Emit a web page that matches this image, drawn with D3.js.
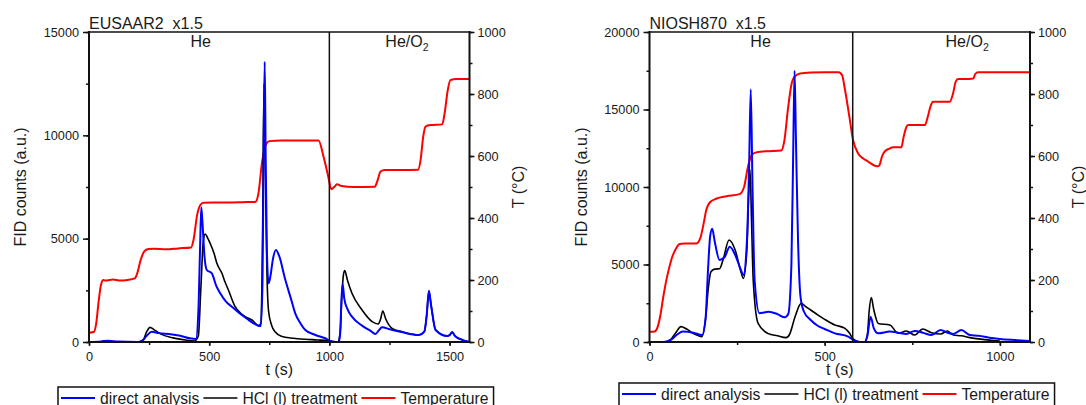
<!DOCTYPE html>
<html>
<head>
<meta charset="utf-8">
<script src="https://cdn.jsdelivr.net/npm/d3@7"></script>
<style>
  body { margin: 0; background: #fff; }
  svg { display: block; }
  text { font-family: "Liberation Sans", Arial, sans-serif; fill: #1a1a1a; }
</style>
</head>
<body>
<svg id="chart" width="1086" height="405"></svg>
<script>
// ---------- EUSAAR2 protocol (x1.5) ----------
const eusTempTime = [0, 20, 30, 40, 50, 60, 70, 100, 130, 160, 190, 200, 215, 230, 247, 270, 320, 370, 425, 435, 450, 462, 475, 520, 580, 640, 692, 705, 720, 735, 750, 800, 900, 955, 975, 995, 1008, 1020, 1032, 1050, 1100, 1189, 1200, 1213, 1230, 1300, 1369, 1380, 1390, 1400, 1420, 1469, 1480, 1492, 1504, 1530, 1583];
const eusTemp     = [30, 32, 60, 130, 185, 200, 198, 202, 198, 200, 205, 220, 265, 292, 300, 301, 299, 302, 305, 330, 410, 440, 449, 450, 450, 451, 452, 480, 580, 635, 648, 650, 650, 650, 600, 535, 493, 500, 509, 503, 500, 501, 520, 550, 555, 555, 556, 590, 660, 695, 700, 702, 740, 810, 845, 848, 848];

const eusDirectTime = [0, 50, 80, 120, 200, 219, 240, 261, 290, 340, 380, 420, 445, 455, 462, 467, 472, 480, 490, 511, 530, 546, 570, 594, 615, 636, 660, 685, 705, 715, 722, 727, 731, 735, 740, 747, 755, 765, 778, 790, 817, 840, 858, 880, 900, 942, 983, 1004, 1020, 1039, 1045, 1050, 1055, 1062, 1075, 1094, 1136, 1170, 1192, 1205, 1219, 1250, 1300, 1372, 1395, 1405, 1414, 1423, 1442, 1490, 1500, 1511, 1522, 1553, 1583];
const eusDirect     = [0, 30, 60, 20, 0, 30, 300, 500, 430, 380, 300, 180, 150, 1500, 4500, 6516, 5800, 4200, 3484, 3323, 2700, 2355, 1950, 1710, 1500, 1306, 1100, 903, 790, 780, 3000, 10000, 13564, 9000, 4500, 2839, 3200, 4000, 4452, 4200, 3000, 2100, 1387, 900, 580, 339, 180, 50, 0, 0, 400, 2000, 2806, 2100, 1600, 1226, 790, 550, 387, 550, 710, 620, 480, 340, 500, 1300, 2484, 1800, 580, 290, 330, 480, 300, 100, 0];

const eusHClTime = [0, 200, 225, 240, 254, 270, 300, 350, 400, 440, 455, 465, 475, 483, 495, 504, 520, 532, 553, 566, 580, 608, 630, 650, 678, 705, 715, 722, 728, 734, 740, 747, 760, 775, 800, 850, 900, 950, 1000, 1035, 1045, 1052, 1058, 1064, 1075, 1094, 1136, 1178, 1203, 1213, 1222, 1235, 1261, 1303, 1372, 1395, 1405, 1414, 1423, 1442, 1490, 1500, 1511, 1522, 1553, 1583];
const eusHCl     = [0, 0, 100, 500, 710, 600, 380, 200, 100, 50, 300, 2500, 4800, 5226, 5000, 4774, 4300, 3806, 3323, 2900, 2516, 1710, 1400, 1226, 1065, 790, 900, 5000, 12500, 8000, 3500, 1500, 800, 480, 280, 180, 130, 100, 60, 0, 500, 2200, 3200, 3452, 3000, 2355, 1548, 984, 870, 1100, 1500, 1100, 660, 500, 340, 500, 1300, 2450, 1800, 580, 290, 330, 470, 300, 100, 0];

// ---------- NIOSH870 protocol (x1.5) ----------
const nioTempTime = [0, 14, 22, 30, 40, 50, 57, 65, 75, 86, 100, 134, 145, 155, 162, 172, 190, 220, 257, 270, 280, 290, 300, 330, 376, 385, 395, 405, 414, 430, 460, 500, 540, 550, 557, 570, 581, 595, 610, 624, 645, 652, 657, 664, 671, 685, 695, 719, 725, 732, 738, 760, 786, 795, 802, 809, 830, 857, 866, 874, 881, 900, 924, 930, 938, 1000, 1086];
const nioTemp     = [33, 34, 45, 80, 150, 210, 243, 275, 300, 316, 318, 318, 335, 385, 426, 450, 462, 470, 477, 500, 560, 600, 610, 615, 618, 650, 750, 830, 856, 866, 869, 870, 870, 860, 820, 730, 652, 609, 592, 582, 568, 567, 572, 600, 614, 624, 628, 628, 660, 690, 700, 700, 700, 730, 760, 775, 775, 775, 800, 840, 848, 848, 850, 865, 870, 870, 870];

const nioDirectTime = [0, 40, 60, 80, 95, 125, 150, 160, 167, 173, 179, 186, 200, 215, 229, 245, 260, 268, 278, 284, 289, 294, 300, 314, 340, 365, 386, 396, 405, 410, 414, 418, 424, 431, 440, 460, 480, 500, 529, 567, 581, 600, 614, 622, 631, 640, 653, 686, 710, 733, 757, 780, 805, 831, 850, 867, 890, 914, 940, 970, 1000, 1050, 1086];
const nioDirect     = [0, 0, 120, 500, 670, 600, 450, 1500, 4645, 6800, 7300, 6500, 5290, 5500, 6150, 5600, 4700, 4323, 6500, 11000, 16300, 10000, 4000, 1849, 1957, 1800, 1591, 1800, 5000, 12000, 17500, 13000, 6500, 2925, 2000, 1419, 1050, 840, 560, 350, 140, 0, 0, 400, 1634, 900, 560, 670, 600, 520, 710, 600, 450, 774, 600, 520, 774, 450, 400, 280, 200, 120, 60];

const nioHClTime = [0, 40, 60, 75, 90, 105, 125, 150, 160, 168, 175, 186, 200, 210, 227, 245, 260, 268, 278, 283, 287, 291, 296, 310, 339, 365, 390, 400, 415, 433, 445, 460, 480, 500, 529, 557, 571, 581, 600, 614, 622, 627, 633, 640, 653, 686, 710, 733, 757, 780, 805, 831, 850, 867, 890, 914, 940, 970, 1000, 1050, 1086];
const nioHCl     = [0, 0, 150, 600, 990, 850, 550, 350, 1500, 3500, 4516, 4700, 4731, 5300, 6581, 5900, 4600, 4108, 6000, 9500, 11097, 8000, 4000, 1204, 540, 400, 280, 500, 1600, 2495, 2300, 2065, 1750, 1462, 1100, 890, 560, 200, 0, 0, 500, 2000, 2860, 2100, 1200, 1100, 560, 710, 450, 840, 600, 520, 710, 450, 400, 280, 200, 120, 60];

// ---------- axes and labels ----------
const eusCountTicks = [0, 5000, 10000, 15000];
const nioCountTicks = [0, 5000, 10000, 15000, 20000];
const tempTicks = [0, 200, 400, 600, 800, 1000];
const eusTimeTicks = [0, 500, 1000, 1500];
const nioTimeTicks = [0, 500, 1000];
const legendLabels = ["direct analysis", "HCl (l) treatment", "Temperature"];
const seriesColors = ["#0000ff", "#000000", "#ff0000"];

const svg = d3.select("#chart");
const fmt = d3.format("d");

function drawPanel(p) {
  const g = svg.append("g");
  const x = d3.scaleLinear().domain([0, p.tMax]).range([p.left, p.right]);
  const y = d3.scaleLinear().domain([0, p.cMax]).range([p.bottom, p.top]);
  const yT = d3.scaleLinear().domain([0, 1000]).range([p.bottom, p.top]);

  // minor ticks (unlabelled)
  const minor = (axis, vals) => axis.tickValues(vals).tickSize(3).tickSizeOuter(0).tickFormat("");
  g.append("g").attr("transform", `translate(0,${p.bottom})`)
    .call(minor(d3.axisBottom(x), d3.range(0, p.tMax + 1, 250)));
  g.append("g").attr("transform", `translate(${p.left},0)`)
    .call(minor(d3.axisLeft(y), d3.range(0, p.cMax + 1, 2500)));
  g.append("g").attr("transform", `translate(${p.right},0)`)
    .call(minor(d3.axisRight(yT), d3.range(0, 1001, 100)));

  // major ticks with labels
  g.append("g").attr("transform", `translate(0,${p.bottom})`)
    .call(d3.axisBottom(x).tickValues(p.timeTicks).tickSize(4).tickSizeOuter(0).tickPadding(6).tickFormat(fmt));
  g.append("g").attr("transform", `translate(${p.left},0)`)
    .call(d3.axisLeft(y).tickValues(p.countTicks).tickSize(6).tickSizeOuter(0).tickPadding(4).tickFormat(fmt));
  g.append("g").attr("transform", `translate(${p.right},0)`)
    .call(d3.axisRight(yT).tickValues(tempTicks).tickSize(5).tickSizeOuter(0).tickPadding(3).tickFormat(fmt));

  g.selectAll(".domain").remove();
  g.selectAll(".tick line").attr("stroke", "#111").attr("stroke-width", 1.5);
  g.selectAll(".tick text").attr("font-size", 12.7).attr("fill", "#1a1a1a")
    .attr("font-family", '"Liberation Sans", Arial, sans-serif');

  // series
  const lineOf = (times, vals, sc) => d3.line()
    .x((d, i) => x(times[i])).y(d => sc(d)).curve(d3.curveMonotoneX)(vals);
  g.append("path").attr("d", lineOf(p.tempTime, p.temp, yT))
    .attr("fill", "none").attr("stroke", seriesColors[2]).attr("stroke-width", 2);
  g.append("path").attr("d", lineOf(p.hclTime, p.hcl, y))
    .attr("fill", "none").attr("stroke", seriesColors[1]).attr("stroke-width", 1.6);
  g.append("path").attr("d", lineOf(p.directTime, p.direct, y))
    .attr("fill", "none").attr("stroke", seriesColors[0]).attr("stroke-width", 2);

  // gas switch marker
  g.append("line").attr("x1", x(p.switchT)).attr("x2", x(p.switchT))
    .attr("y1", p.top).attr("y2", p.bottom).attr("stroke", "#111").attr("stroke-width", 1.5);

  // frame
  g.append("line").attr("x1", p.left).attr("x2", p.right).attr("y1", p.top).attr("y2", p.top)
    .attr("stroke", "#111").attr("stroke-width", 1.5);
  g.append("line").attr("x1", p.left - 1).attr("x2", p.right + 1).attr("y1", p.bottom).attr("y2", p.bottom)
    .attr("stroke", "#111").attr("stroke-width", 2);
  g.append("line").attr("x1", p.left).attr("x2", p.left).attr("y1", p.top - 1).attr("y2", p.bottom)
    .attr("stroke", "#111").attr("stroke-width", 2);
  g.append("line").attr("x1", p.right).attr("x2", p.right).attr("y1", p.top - 1).attr("y2", p.bottom)
    .attr("stroke", "#111").attr("stroke-width", 2);

  // texts
  g.append("text").attr("x", p.left).attr("y", 29).attr("font-size", 16)
    .style("white-space", "pre").text(p.title);
  g.append("text").attr("x", x(p.heT)).attr("y", 47).attr("font-size", 16)
    .attr("text-anchor", "middle").text("He");
  const ox = g.append("text").attr("x", x(p.oxT)).attr("y", 47).attr("font-size", 16);
  ox.append("tspan").text("He/O");
  ox.append("tspan").attr("font-size", 10.5).attr("dy", 4).text("2");

  const midY = (p.top + p.bottom) / 2;
  g.append("text").attr("transform", `translate(${p.left - 63},${midY}) rotate(-90)`)
    .attr("font-size", 16).attr("text-anchor", "middle").text("FID counts (a.u.)");
  g.append("text").attr("transform", `translate(${p.right + 54},${midY}) rotate(-90)`)
    .attr("font-size", 16).attr("text-anchor", "middle").text("T (°C)");
  g.append("text").attr("x", (p.left + p.right) / 2).attr("y", 375)
    .attr("font-size", 16).attr("text-anchor", "middle").text("t (s)");

  // legend
  const lg = g.append("g");
  const box = lg.append("rect").attr("x", p.legendX).attr("y", p.legendY)
    .attr("height", 40).attr("fill", "#fff").attr("stroke", "#111").attr("stroke-width", 1.5);
  let cx = p.legendX + 3;
  const ly0 = p.legendY + 11;
  legendLabels.forEach((lab, i) => {
    lg.append("line").attr("x1", cx).attr("x2", cx + 34).attr("y1", ly0).attr("y2", ly0)
      .attr("stroke", seriesColors[i]).attr("stroke-width", i === 1 ? 1.6 : 2);
    const t = lg.append("text").attr("x", cx + 39).attr("y", ly0 + 5.5).attr("font-size", 15.7).text(lab);
    cx = cx + 39 + t.node().getComputedTextLength() + 4;
  });
  box.attr("width", cx - p.legendX + 1);
}

drawPanel({
  left: 89, right: 469.5, top: 32, bottom: 342,
  tMax: 1583, cMax: 15000, switchT: 1000, heT: 465, oxT: 1233,
  title: "EUSAAR2  x1.5",
  countTicks: eusCountTicks, timeTicks: eusTimeTicks,
  tempTime: eusTempTime, temp: eusTemp,
  directTime: eusDirectTime, direct: eusDirect,
  hclTime: eusHClTime, hcl: eusHCl,
  legendX: 58, legendY: 387
});

drawPanel({
  left: 649.5, right: 1030, top: 32, bottom: 342,
  tMax: 1086, cMax: 20000, switchT: 580, heT: 317, oxT: 845,
  title: "NIOSH870  x1.5",
  countTicks: nioCountTicks, timeTicks: nioTimeTicks,
  tempTime: nioTempTime, temp: nioTemp,
  directTime: nioDirectTime, direct: nioDirect,
  hclTime: nioHClTime, hcl: nioHCl,
  legendX: 619, legendY: 383
});
</script>
</body>
</html>
